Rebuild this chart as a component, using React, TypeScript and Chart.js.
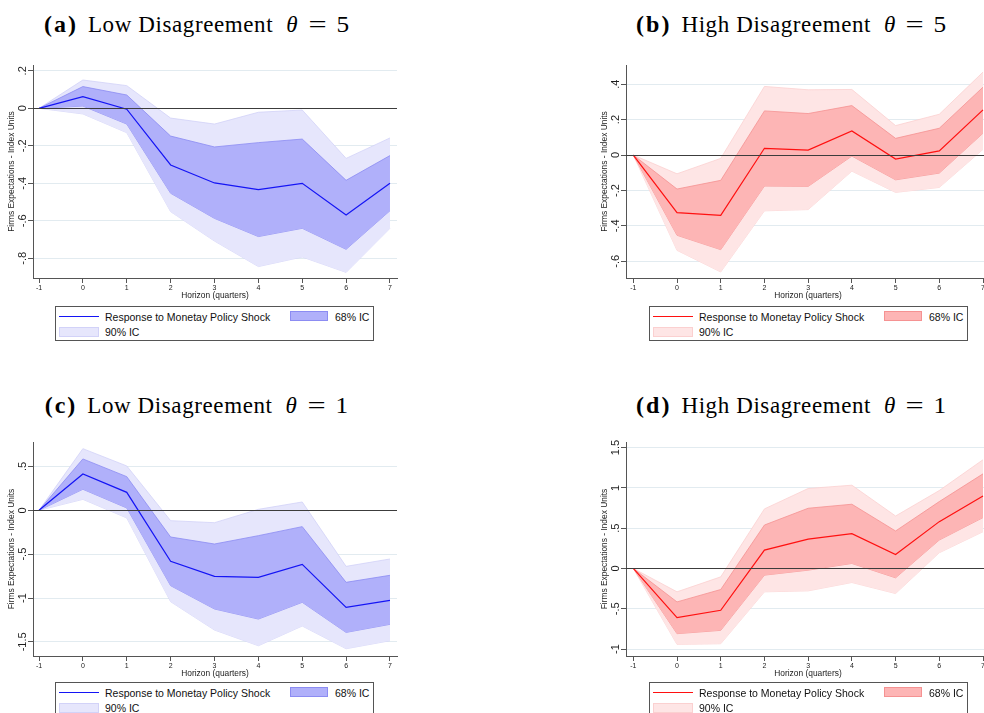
import React, { useEffect, useRef } from 'react';
import { Chart, registerables } from 'chart.js';

Chart.register(...registerables);

// ---------- data ----------
const horizons = [-1, 0, 1, 2, 3, 4, 5, 6, 7];

// (a) Low Disagreement theta = 5
const aLine = [0, 0.062, -0.005, -0.302, -0.398, -0.434, -0.4, -0.569, -0.4];
const aUp68 = [0, 0.116, 0.071, -0.148, -0.206, -0.183, -0.164, -0.384, -0.252];
const aLo68 = [0, 0.012, -0.084, -0.453, -0.587, -0.684, -0.64, -0.752, -0.546];
const aUp90 = [0, 0.151, 0.121, -0.052, -0.084, -0.021, -0.009, -0.267, -0.158];
const aLo90 = [0, -0.03, -0.13, -0.551, -0.708, -0.844, -0.793, -0.875, -0.64];
const aTicks = [0.2, 0, -0.2, -0.4, -0.6, -0.8];

// (b) High Disagreement theta = 5
const bLine = [0, -0.325, -0.34, 0.038, 0.028, 0.136, -0.023, 0.023, 0.255];
const bUp68 = [0, -0.192, -0.143, 0.249, 0.234, 0.279, 0.094, 0.151, 0.383];
const bLo68 = [0, -0.453, -0.534, -0.175, -0.177, -0.006, -0.14, -0.102, 0.123];
const bUp90 = [0, -0.106, -0.019, 0.387, 0.368, 0.37, 0.166, 0.23, 0.468];
const bLo90 = [0, -0.538, -0.66, -0.315, -0.308, -0.091, -0.211, -0.183, 0.032];
const bTicks = [0.4, 0.2, 0, -0.2, -0.4, -0.6];

// (c) Low Disagreement theta = 1
const cLine = [0, 0.414, 0.205, -0.582, -0.753, -0.764, -0.616, -1.106, -1.027];
const cUp68 = [0, 0.586, 0.384, -0.304, -0.384, -0.289, -0.186, -0.821, -0.741];
const cLo68 = [0, 0.24, 0.027, -0.859, -1.125, -1.24, -1.049, -1.392, -1.3];
const cUp90 = [0, 0.703, 0.506, -0.118, -0.141, 0.011, 0.095, -0.639, -0.555];
const cLo90 = [0, 0.125, -0.087, -1.042, -1.365, -1.544, -1.319, -1.578, -1.487];
const cTicks = [0.5, 0, -0.5, -1, -1.5];

// (d) High Disagreement theta = 1
const dLine = [0, -0.61, -0.519, 0.228, 0.365, 0.432, 0.174, 0.581, 0.9];
const dUp68 = [0, -0.415, -0.261, 0.539, 0.747, 0.797, 0.465, 0.83, 1.174];
const dLo68 = [0, -0.809, -0.768, -0.083, -0.021, 0.062, -0.116, 0.353, 0.631];
const dUp90 = [0, -0.29, -0.104, 0.739, 0.992, 1.033, 0.651, 0.967, 1.349];
const dLo90 = [0, -0.942, -0.934, -0.29, -0.278, -0.174, -0.311, 0.195, 0.456];
const dTicks = [1.5, 1, 0.5, 0, -0.5, -1];

const lineLabel = 'Response to Monetay Policy Shock';
const ic68Label = '68% IC';
const ic90Label = '90% IC';
const yTitle = 'Firms Expectations - Index Units';
const xTitle = 'Horizon (quarters)';

// ---------- styles ----------
const SANS = '"Liberation Sans", Arial, sans-serif';
const SERIF = '"Liberation Serif", "Times New Roman", serif';

const BLUE = {
  line: '#1414f5',
  f68: '#b0b0fa',
  b68: '#8c8cf2',
  f90: '#e6e6fc',
  b90: '#d2d2f8',
};
const RED = {
  line: '#ff1010',
  f68: '#fdb5b5',
  b68: '#f59292',
  f90: '#fee5e5',
  b90: '#fbd0d0',
};

function stataFmt(v: number): string {
  const r = Math.round(v * 100) / 100;
  if (r === 0) return '0';
  const s = Math.abs(r).toString().replace(/^0\./, '.');
  return (r < 0 ? '-' : '') + s;
}

type PanelProps = {
  left: number;
  top: number;
  width: number;
  height: number;
  areaLeft: number;
  areaTop: number;
  areaRight: number;
  areaBottom: number;
  xMin: number;
  xMax: number;
  yMin: number;
  yMax: number;
  yTicks: number[];
  line: number[];
  up68: number[];
  lo68: number[];
  up90: number[];
  lo90: number[];
  colors: typeof BLUE;
};

function Panel(p: PanelProps) {
  const ref = useRef<HTMLCanvasElement | null>(null);
  useEffect(() => {
    if (!ref.current) return;
    const pts = (arr: number[]) => horizons.map((h, i) => ({ x: h, y: arr[i] }));
    const overlay = {
      id: 'overlay',
      afterDatasetsDraw(chart: any) {
        const { ctx, chartArea, scales } = chart;
        const y0 = Math.round(scales.y.getPixelForValue(0)) + 0.5;
        ctx.save();
        ctx.strokeStyle = '#3c3c3c';
        ctx.lineWidth = 1;
        ctx.beginPath();
        ctx.moveTo(chartArea.left, y0);
        ctx.lineTo(chartArea.right, y0);
        ctx.stroke();
        ctx.restore();
      },
      afterDraw(chart: any) {
        const { ctx, chartArea, scales } = chart;
        ctx.save();
        ctx.fillStyle = '#1e1e1e';
        ctx.font = `11px ${SANS}`;
        ctx.textAlign = 'center';
        ctx.textBaseline = 'middle';
        p.yTicks.forEach((v) => {
          const y = scales.y.getPixelForValue(v);
          ctx.save();
          ctx.translate(chartArea.left - 10, y);
          ctx.rotate(-Math.PI / 2);
          ctx.fillText(stataFmt(v), 0, 0);
          ctx.restore();
        });
        ctx.restore();
      },
    };
    const bandDs = (arr: number[], fill: any, bg: string, bc: string) => ({
      data: pts(arr),
      borderColor: bc,
      backgroundColor: bg,
      borderWidth: 0.8,
      pointRadius: 0,
      tension: 0,
      fill,
    });
    const chart = new Chart(ref.current, {
      type: 'line',
      data: {
        datasets: [
          {
            data: pts(p.line),
            borderColor: p.colors.line,
            borderWidth: 1.2,
            pointRadius: 0,
            tension: 0,
            fill: false,
          },
          bandDs(p.up68, '+1', p.colors.f68, p.colors.b68),
          bandDs(p.lo68, false, p.colors.f68, p.colors.b68),
          bandDs(p.up90, '+1', p.colors.f90, p.colors.b90),
          bandDs(p.lo90, false, p.colors.f90, p.colors.b90),
        ] as any,
      },
      options: {
        responsive: false,
        animation: false,
        events: [],
        layout: {
          padding: {
            left: 0,
            top: p.areaTop - p.top,
            right: p.width - (p.areaRight - p.left),
            bottom: 0,
          },
        },
        plugins: {
          legend: { display: false },
          tooltip: { enabled: false },
        },
        scales: {
          x: {
            type: 'linear',
            min: p.xMin,
            max: p.xMax,
            afterBuildTicks: (s: any) => {
              s.ticks = horizons.map((v) => ({ value: v }));
            },
            afterFit: (s: any) => {
              s.height = p.top + p.height - p.areaBottom;
            },
            grid: {
              drawOnChartArea: false,
              drawTicks: true,
              tickLength: 5,
              tickColor: '#555',
            },
            border: { color: '#555', width: 1 },
            ticks: {
              font: { family: SANS, size: 7 },
              color: '#222',
              padding: 1,
              maxRotation: 0,
              minRotation: 0,
              autoSkip: false,
              callback: (v: any) => String(v),
            },
            title: {
              display: true,
              text: xTitle,
              font: { family: SANS, size: 8.4 },
              color: '#222',
              padding: { top: 0, bottom: 4 },
            },
          },
          y: {
            type: 'linear',
            min: p.yMin,
            max: p.yMax,
            afterBuildTicks: (s: any) => {
              s.ticks = p.yTicks.map((v) => ({ value: v }));
            },
            afterFit: (s: any) => {
              s.width = p.areaLeft - p.left;
            },
            grid: {
              color: '#e2ebf0',
              lineWidth: 1,
              drawTicks: true,
              tickLength: 5,
              tickColor: '#555',
            },
            border: { color: '#555', width: 1 },
            ticks: {
              color: 'rgba(0,0,0,0)',
              font: { family: SANS, size: 11 },
            },
            title: {
              display: true,
              text: yTitle,
              font: { family: SANS, size: 8.4 },
              color: '#222',
              padding: { top: 7, bottom: 0 },
            },
          },
        },
      } as any,
      plugins: [overlay],
    });
    return () => chart.destroy();
  }, []);
  return (
    <canvas
      ref={ref}
      width={p.width}
      height={p.height}
      style={{ position: 'absolute', left: p.left, top: p.top, width: p.width, height: p.height }}
    />
  );
}

function Legend({ left, top, colors }: { left: number; top: number; colors: typeof BLUE }) {
  const txt = (l: number, cy: number, s: string) => (
    <span
      style={{
        position: 'absolute',
        left: l,
        top: cy - 6,
        lineHeight: '12px',
        fontSize: 10.5,
        whiteSpace: 'nowrap',
      }}
    >
      {s}
    </span>
  );
  return (
    <div
      style={{
        position: 'absolute',
        left,
        top,
        width: 319,
        height: 35,
        border: '1px solid #555',
        boxSizing: 'border-box',
        background: '#fff',
        fontFamily: SANS,
        color: '#111',
      }}
    >
      <div
        style={{
          position: 'absolute',
          left: 3,
          top: 9,
          width: 40,
          height: 0,
          borderTop: `1px solid ${colors.line}`,
        }}
      />
      {txt(49, 9.5, lineLabel)}
      <div
        style={{
          position: 'absolute',
          left: 234,
          top: 4,
          width: 38,
          height: 10,
          boxSizing: 'border-box',
          background: colors.f68,
          border: `1px solid ${colors.b68}`,
        }}
      />
      {txt(279, 9.5, ic68Label)}
      <div
        style={{
          position: 'absolute',
          left: 3,
          top: 20,
          width: 40,
          height: 10,
          boxSizing: 'border-box',
          background: colors.f90,
          border: `1px solid ${colors.b90}`,
        }}
      />
      {txt(49, 24.5, ic90Label)}
    </div>
  );
}

function Title({ cx, top, tag, text, theta }: { cx: number; top: number; tag: string; text: string; theta: string }) {
  return (
    <div
      style={{
        position: 'absolute',
        left: cx - 250,
        width: 500,
        top,
        height: 26,
        display: 'flex',
        justifyContent: 'center',
        alignItems: 'baseline',
        fontFamily: SERIF,
        fontSize: 23,
        lineHeight: '26px',
        color: '#000',
        whiteSpace: 'nowrap',
      }}
    >
      <span style={{ fontWeight: 'bold', fontSize: 24, letterSpacing: 2, marginRight: 10 }}>{tag}</span>
      <span style={{ letterSpacing: 0.6, marginRight: 13 }}>{text}</span>
      <span style={{ fontStyle: 'italic' }}>θ</span>
      <span style={{ margin: '0 13px', display: 'inline-block', transform: 'scaleX(1.4)' }}>=</span>
      <span style={{ display: 'inline-block', transform: 'scaleX(1.1)' }}>{theta}</span>
    </div>
  );
}

export default function App() {
  return (
    <div
      style={{
        position: 'absolute',
        left: 0,
        top: 0,
        width: 984,
        height: 713,
        overflow: 'hidden',
        background: '#fff',
      }}
    >
      <Title cx={196} top={11} tag="(a)" text="Low Disagreement" theta="5" />
      <Title cx={791} top={11} tag="(b)" text="High Disagreement" theta="5" />
      <Title cx={196} top={392} tag="(c)" text="Low Disagreement" theta="1" />
      <Title cx={791} top={392} tag="(d)" text="High Disagreement" theta="1" />

      <Panel
        left={0} top={55} width={410} height={250}
        areaLeft={33} areaTop={65} areaRight={397} areaBottom={278}
        xMin={-1.137} xMax={7.16} yMin={-0.905} yMax={0.231}
        yTicks={aTicks}
        line={aLine} up68={aUp68} lo68={aLo68} up90={aUp90} lo90={aLo90}
        colors={BLUE}
      />
      <Panel
        left={593} top={55} width={400} height={250}
        areaLeft={626} areaTop={65} areaRight={990} areaBottom={278}
        xMin={-1.167} xMax={7.16} yMin={-0.694} yMax={0.508}
        yTicks={bTicks}
        line={bLine} up68={bUp68} lo68={bLo68} up90={bUp90} lo90={bLo90}
        colors={RED}
      />
      <Panel
        left={0} top={432} width={410} height={251}
        areaLeft={33} areaTop={442} areaRight={397} areaBottom={656}
        xMin={-1.137} xMax={7.16} yMin={-1.661} yMax={0.779}
        yTicks={cTicks}
        line={cLine} up68={cUp68} lo68={cLo68} up90={cUp90} lo90={cLo90}
        colors={BLUE}
      />
      <Panel
        left={593} top={432} width={400} height={251}
        areaLeft={626} areaTop={442} areaRight={990} areaBottom={656}
        xMin={-1.167} xMax={7.16} yMin={-1.086} yMax={1.569}
        yTicks={dTicks}
        line={dLine} up68={dUp68} lo68={dLo68} up90={dUp90} lo90={dLo90}
        colors={RED}
      />

      <Legend left={55} top={306} colors={BLUE} />
      <Legend left={649} top={306} colors={RED} />
      <Legend left={55} top={682} colors={BLUE} />
      <Legend left={649} top={682} colors={RED} />
    </div>
  );
}
